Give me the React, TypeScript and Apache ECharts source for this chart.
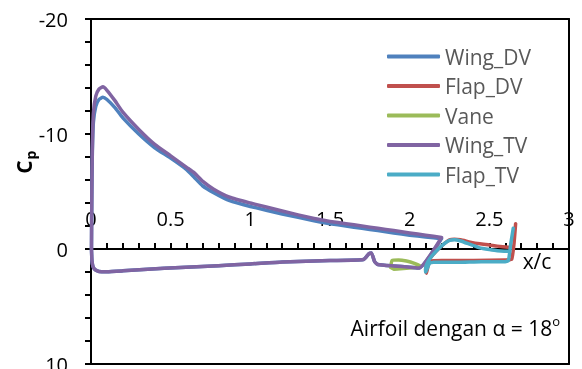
import React, { useEffect, useRef } from "react";
import * as echarts from "echarts";

const seriesNames = ["Wing_DV", "Flap_DV", "Vane", "Wing_TV", "Flap_TV"];
const colors = ["#4F81BD", "#C0504D", "#9BBB59", "#8064A2", "#4BACC6"];

const xTicks = [0, 0.5, 1, 1.5, 2, 2.5, 3];
const yTicks = [-20, -10, 0, 10];

// Wing_DV: upper surface TE -> LE, lower surface LE -> TE, closing
const wingDvX = [2.2, 2.1, 2.0, 1.9, 1.8, 1.7, 1.6, 1.5, 1.4, 1.2, 1.0, 0.87, 0.77, 0.7, 0.65, 0.6, 0.5, 0.4, 0.3, 0.2, 0.15, 0.1, 0.075, 0.05, 0.03, 0.015, 0.008, 0.005, 0.003,
  0.004, 0.006, 0.012, 0.025, 0.05, 0.1, 0.2, 0.46, 0.8, 1.0, 1.2, 1.5, 1.71, 1.745, 1.76, 1.78, 1.8, 1.9, 2.0, 2.06, 2.2];
const wingDvCp = [-0.9, -1.05, -1.2, -1.4, -1.6, -1.8, -2.0, -2.2, -2.45, -3.05, -3.7, -4.2, -4.9, -5.5, -6.2, -6.9, -7.9, -8.8, -10.0, -11.4, -12.3, -13.0, -13.2, -13.0, -12.4, -11.0, -8.0, -4.0, 0.0,
  0.4, 1.0, 1.5, 1.8, 1.95, 1.97, 1.9, 1.68, 1.45, 1.3, 1.12, 1.0, 0.92, 0.4, 0.35, 1.1, 1.35, 1.48, 1.58, 1.65, -0.9];

// Flap_DV
const flapDvX = [2.62, 2.55, 2.5, 2.44, 2.38, 2.32, 2.28, 2.25, 2.22, 2.18, 2.14, 2.115, 2.1, 2.105, 2.115, 2.13, 2.2, 2.4, 2.6, 2.64, 2.655, 2.665];
const flapDvCp = [-0.15, -0.25, -0.35, -0.45, -0.6, -0.8, -0.85, -0.8, -0.5, 0.0, 0.6, 1.1, 1.8, 2.1, 1.5, 1.05, 1.0, 1.0, 0.95, 0.9, -0.5, -2.2];

// Vane
const vaneX = [1.88, 1.89, 1.93, 1.98, 2.03, 2.07, 2.03, 1.96, 1.9, 1.88];
const vaneCp = [1.6, 1.0, 0.95, 1.05, 1.25, 1.5, 1.6, 1.7, 1.75, 1.6];

// Wing_TV
const wingTvX = [2.2, 2.1, 2.0, 1.9, 1.8, 1.7, 1.6, 1.5, 1.4, 1.2, 1.0, 0.87, 0.77, 0.7, 0.65, 0.6, 0.5, 0.4, 0.3, 0.2, 0.15, 0.1, 0.075, 0.05, 0.03, 0.015, 0.008, 0.005, 0.003,
  0.004, 0.006, 0.012, 0.025, 0.05, 0.1, 0.2, 0.46, 0.8, 1.0, 1.2, 1.5, 1.71, 1.745, 1.76, 1.78, 1.8, 1.9, 2.0, 2.06, 2.2];
const wingTvCp = [-1.0, -1.2, -1.4, -1.6, -1.8, -2.0, -2.2, -2.4, -2.65, -3.3, -4.0, -4.5, -5.2, -5.9, -6.6, -7.1, -8.1, -9.1, -10.4, -11.9, -12.9, -13.8, -14.1, -13.9, -13.3, -11.8, -8.5, -4.3, 0.0,
  0.4, 1.0, 1.5, 1.8, 1.95, 1.97, 1.9, 1.68, 1.45, 1.3, 1.12, 1.0, 0.92, 0.4, 0.35, 1.1, 1.35, 1.48, 1.58, 1.65, -1.0];

// Flap_TV
const flapTvX = [2.62, 2.55, 2.5, 2.44, 2.38, 2.32, 2.28, 2.25, 2.22, 2.18, 2.14, 2.115, 2.1, 2.1, 2.11, 2.125, 2.15, 2.3, 2.45, 2.6, 2.62, 2.635, 2.65];
const flapTvCp = [0.2, 0.15, 0.05, -0.1, -0.4, -0.7, -0.8, -0.75, -0.5, 0.0, 0.6, 1.1, 1.7, 2.0, 1.7, 1.25, 1.15, 1.15, 1.1, 1.1, 1.0, -0.5, -1.8];

const seriesX = [wingDvX, flapDvX, vaneX, wingTvX, flapTvX];
const seriesCp = [wingDvCp, flapDvCp, vaneCp, wingTvCp, flapTvCp];

const FONT = "Open Sans";
const black = "#000";

const W = 582;
const H = 369;
const GRID = { left: 91, right: 13, top: 19, bottom: 5 };

export default function App() {
  const ref = useRef<HTMLDivElement>(null);
  useEffect(() => {
    if (!ref.current) return;
    const chart = echarts.init(ref.current, null, { renderer: "svg" });
    const tickStyle = { color: black, width: 2 };
    const yMin = yTicks[0];
    const yMax = yTicks[yTicks.length - 1];
    const gridH = H - GRID.top - GRID.bottom;
    const zeroOffset = (gridH * (0 - yMin)) / (yMax - yMin);
    chart.setOption({
      animation: false,
      textStyle: { fontFamily: FONT },
      grid: { ...GRID, outerBoundsMode: "none", containLabel: false },
      legend: {
        orient: "vertical",
        left: 382,
        top: 41,
        padding: 5,
        icon: "roundRect",
        itemWidth: 53,
        itemHeight: 4,
        itemGap: 8.5,
        textStyle: { fontFamily: FONT, fontSize: 21, color: "#595959", lineHeight: 21 },
        data: seriesNames,
      },
      xAxis: [
        {
          type: "value",
          position: "bottom",
          min: xTicks[0],
          max: xTicks[xTicks.length - 1],
          interval: 0.5,
          axisLine: { onZero: true, lineStyle: tickStyle },
          axisTick: { show: true, inside: true, length: 6, lineStyle: tickStyle },
          minorTick: { show: true, splitNumber: 5, length: 6, lineStyle: tickStyle },
          splitLine: { show: false },
          axisLabel: { show: false },
        },
        {
          type: "value",
          position: "top",
          offset: -zeroOffset,
          min: xTicks[0],
          max: xTicks[xTicks.length - 1],
          interval: 0.5,
          axisLine: { show: false, onZero: false },
          axisTick: { show: false },
          splitLine: { show: false },
          axisLabel: { fontFamily: FONT, fontSize: 20, color: black, margin: 21, showMaxLabel: true, showMinLabel: true },
        },
        {
          type: "value",
          position: "top",
          min: xTicks[0],
          max: xTicks[xTicks.length - 1],
          axisLine: { show: true, onZero: false, lineStyle: tickStyle },
          axisTick: { show: false },
          axisLabel: { show: false },
          splitLine: { show: false },
        },
        {
          type: "value",
          position: "bottom",
          min: xTicks[0],
          max: xTicks[xTicks.length - 1],
          axisLine: { show: true, onZero: false, lineStyle: tickStyle },
          axisTick: { show: false },
          axisLabel: { show: false },
          splitLine: { show: false },
        },
      ],
      yAxis: [
        {
          type: "value",
          inverse: true,
          min: yMin,
          max: yMax,
          interval: 10,
          axisLine: { show: true, onZero: false, lineStyle: tickStyle },
          axisTick: { show: true, inside: false, length: 6, lineStyle: tickStyle },
          minorTick: { show: true, splitNumber: 5, length: 6, lineStyle: tickStyle },
          splitLine: { show: false },
          axisLabel: { fontFamily: FONT, fontSize: 20, color: black, margin: 23 },
        },
        {
          type: "value",
          position: "right",
          inverse: true,
          min: yMin,
          max: yMax,
          axisLine: { show: true, onZero: false, lineStyle: tickStyle },
          axisTick: { show: false },
          axisLabel: { show: false },
          splitLine: { show: false },
        },
      ],
      series: seriesNames.map((name, i) => ({
        name,
        type: "line",
        symbol: "none",
        smooth: 0.15,
        color: colors[i],
        lineStyle: { width: 3.5, color: colors[i], cap: "round", join: "round" },
        data: seriesX[i].map((x, k) => [x, seriesCp[i][k]]),
      })),
      graphic: [
        {
          type: "text",
          x: 24,
          y: 167,
          rotation: Math.PI / 2,
          style: { text: "C", fontFamily: FONT, fontSize: 21, fontWeight: "bold", fill: black, align: "center", verticalAlign: "middle" },
        },
        {
          type: "text",
          x: 30,
          y: 155,
          rotation: Math.PI / 2,
          style: { text: "p", fontFamily: FONT, fontSize: 14, fontWeight: "bold", fill: black, align: "center", verticalAlign: "middle" },
        },
        {
          type: "text",
          x: 537,
          y: 261,
          style: { text: "x/c", fontFamily: FONT, fontSize: 21, fill: black, align: "center", verticalAlign: "middle" },
        },
        {
          type: "text",
          x: 560,
          y: 326,
          style: {
            text: "{a|Airfoil dengan α = 18}{s|o}",
            align: "right",
            verticalAlign: "middle",
            rich: {
              a: { fontFamily: FONT, fontSize: 21, fill: black, color: black, verticalAlign: "bottom", lineHeight: 24 },
              s: { fontFamily: FONT, fontSize: 13, fill: black, color: black, verticalAlign: "top", lineHeight: 24 },
            },
          },
        },
      ],
    });
    return () => chart.dispose();
  }, []);
  return <div ref={ref} style={{ position: "fixed", left: 0, top: 0, width: W, height: H }} />;
}
